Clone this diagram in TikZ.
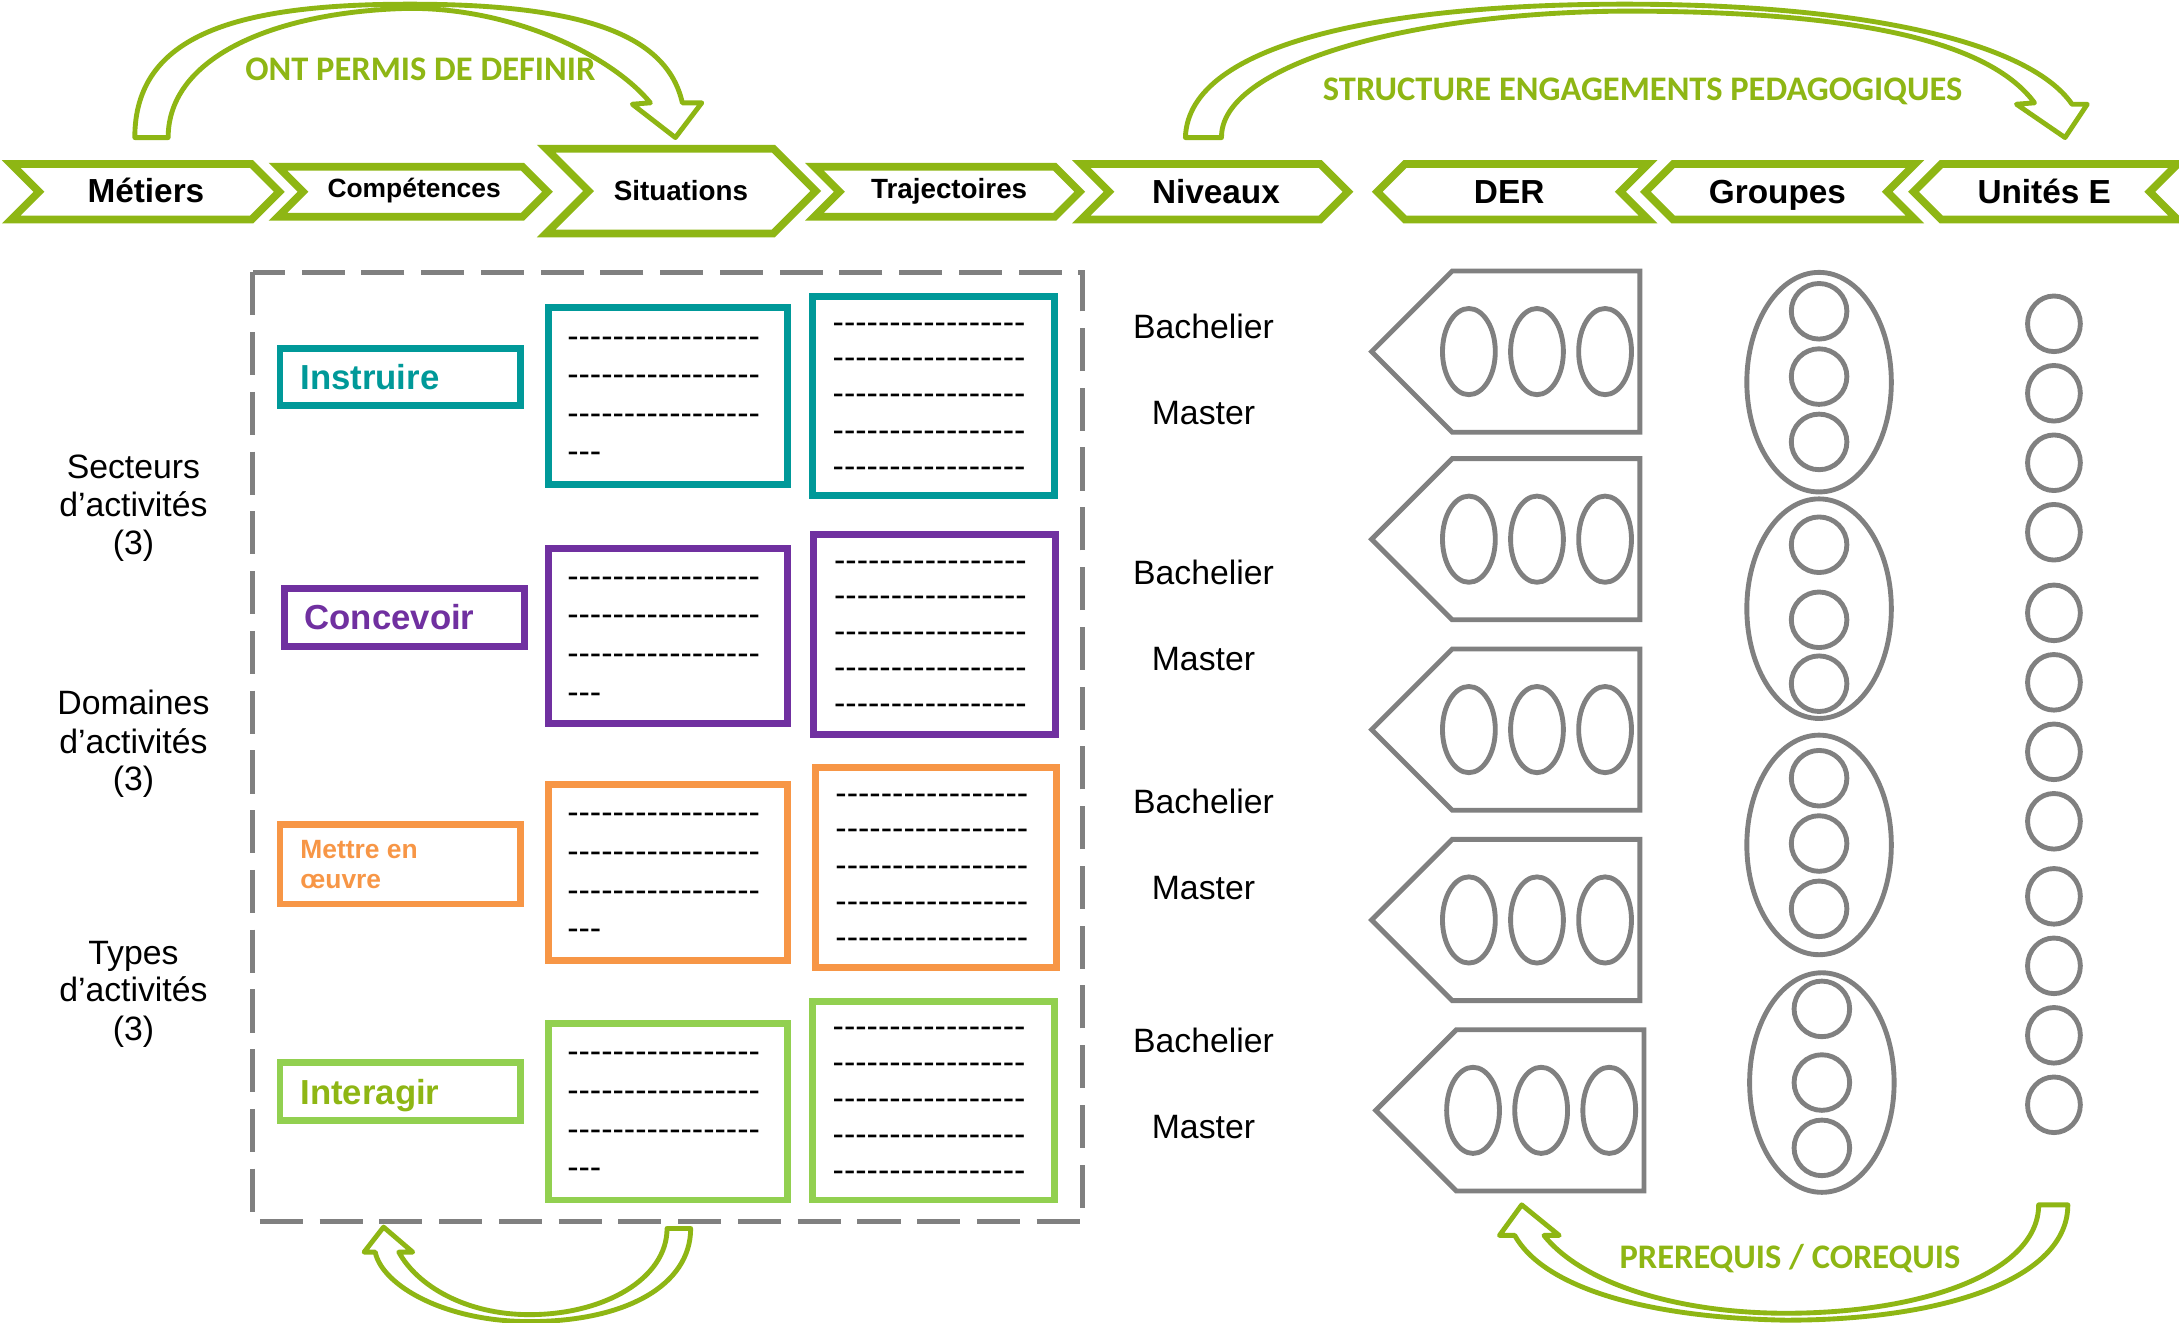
\documentclass[tikz,border=0pt]{standalone}
\usepackage{fontspec}
\setmainfont{Liberation Sans}
\newfontfamily\calfont{Carlito}
\definecolor{cgreen}{RGB}{142,182,20}
\definecolor{cteal}{RGB}{0,153,153}
\definecolor{cpurple}{RGB}{112,48,160}
\definecolor{corange}{RGB}{247,150,70}
\definecolor{clgreen}{RGB}{146,208,80}
\definecolor{cgray}{RGB}{128,128,128}
\newcommand\chevR[4]{%
  \pgfmathsetmacro\chd{(#4-#3)/2}%
  \pgfmathsetmacro\chm{(#4+#3)/2}%
  \draw[chev] (#1,#3) -- ({#2-\chd},#3) -- (#2,\chm) -- ({#2-\chd},#4) -- (#1,#4) -- ({#1+\chd},\chm) -- cycle;}
\newcommand\chevL[4]{%
  \pgfmathsetmacro\chd{(#4-#3)/2}%
  \pgfmathsetmacro\chm{(#4+#3)/2}%
  \draw[chev] (#1,\chm) -- ({#1+\chd},#3) -- (#2,#3) -- ({#2-\chd},\chm) -- (#2,#4) -- ({#1+\chd},#4) -- cycle;}
\newcommand\myhy{-\kern0pt}
\newcommand\dline{\myhy\myhy\myhy\myhy\myhy\myhy\myhy\myhy\myhy\myhy\myhy\myhy\myhy\myhy\myhy\myhy\myhy}
\newcommand\dshort{\myhy\myhy\myhy}
\tikzset{
  chev/.style={draw=cgreen, line width=5.5pt, fill=white},
  bigarrow/.style={draw=cgreen, line width=3.5pt, fill=white, line join=round},
  hdr/.style={font=\fontsize{24}{28}\selectfont\bfseries, anchor=base, inner sep=0pt},
  hdrs/.style={font=\fontsize{20}{24}\selectfont\bfseries, anchor=base, inner sep=0pt},
  glabel/.style={font=\calfont\fontsize{24.8}{28}\selectfont\bfseries, text=cgreen, anchor=base, inner sep=0pt},
  lbox/.style={line width=5pt},
  lbltxt/.style={font=\fontsize{25}{29}\selectfont\bfseries, anchor=base west, inner sep=0pt},
  gshape/.style={draw=cgray, line width=3.5pt},
  dashtxt/.style={font=\fontsize{24.5}{28}\selectfont, anchor=base west, inner sep=0pt},
  plaintxt/.style={font=\fontsize{24.3}{28}\selectfont, anchor=base, inner sep=0pt},
}
\begin{document}
\begin{tikzpicture}[x=1pt,y=-1pt]
\useasboundingbox (0,0) rectangle (1568,952);
\fill[white] (0,0) rectangle (1568,952);

% curved block arrows
\draw[bigarrow] (97,99) .. controls (97,25) and (170,3) .. (295,3)
  .. controls (420,3) and (480,25) .. (491,74)
  -- (505,74) -- (486,99) -- (455,75) -- (468,74)
  .. controls (440,40) and (370,6) .. (295,6)
  .. controls (200,8) and (121,40) .. (121,99) -- cycle;
\draw[bigarrow] (853,99) .. controls (855,30) and (1000,3) .. (1169,3)
  .. controls (1340,3) and (1460,30) .. (1491,75)
  -- (1502,75) -- (1486,99) -- (1451,75) -- (1464,74)
  .. controls (1430,28) and (1330,8) .. (1169,8)
  .. controls (1010,9) and (878,48) .. (879,99) -- cycle;
\draw[bigarrow] (497,884) .. controls (497,925) and (450,951) .. (381,951)
  .. controls (320,951) and (275,925) .. (270,901)
  -- (262,901) -- (276,883) -- (297,901) -- (287,901)
  .. controls (300,925) and (335,946) .. (381,946)
  .. controls (435,946) and (480,920) .. (480,884) -- cycle;
\draw[bigarrow] (1488,867) .. controls (1488,920) and (1400,950) .. (1285,950)
  .. controls (1180,948) and (1110,925) .. (1090,889)
  -- (1079,889) -- (1095,867) -- (1122,889) -- (1111,889)
  .. controls (1140,925) and (1210,945) .. (1285,945)
  .. controls (1385,945) and (1467,915) .. (1467,867) -- cycle;

\node[glabel] (lab1) at (302.5,57.7) {ONT PERMIS DE DEFINIR};
\node[glabel] (lab2) at (1182,72) {STRUCTURE ENGAGEMENTS PEDAGOGIQUES};
\node[glabel] (lab3) at (1288,912.7) {PREREQUIS / COREQUIS};

% chevrons
\chevR{8}{201}{118}{158}
\chevR{200}{394}{120}{156}
\chevR{393}{587}{107}{168}
\chevR{586}{777}{120}{156}
\chevR{778}{970}{118}{158}
\chevL{991}{1186}{118}{158}
\chevL{1184}{1378}{118}{158}
\chevL{1377}{1567}{118}{158}

\node[hdr] (metiers) at (105,145.6) {Métiers};
\node[hdrs, font=\fontsize{19}{22}\selectfont\bfseries] (comp) at (298,141.8) {Compétences};
\node[hdrs] (situ) at (490,144.2) {Situations};
\node[hdrs] (traj) at (683,143.2) {Trajectoires};
\node[hdr] (niv) at (875,146.6) {Niveaux};
\node[hdr] (der) at (1086,146.6) {DER};
\node[hdr] (grp) at (1279,146.6) {Groupes};
\node[hdr] (ue) at (1471,146.6) {Unités E};

% dashed frame
\draw[cgray, line width=3.5pt, dash pattern=on 31pt off 12pt] (182,196) rectangle (779,879);

% left labels
\node[plaintxt] (s1) at (96,344) {Secteurs};
\node[plaintxt] (s2) at (96,372) {d’activités};
\node[plaintxt] (s3) at (96,399) {(3)};
\node[plaintxt] (d1) at (96,514) {Domaines};
\node[plaintxt] (d2) at (96,542) {d’activités};
\node[plaintxt] (d3) at (96,569) {(3)};
\node[plaintxt] (t1) at (96,694) {Types};
\node[plaintxt] (t2) at (96,721) {d’activités};
\node[plaintxt] (t3) at (96,749) {(3)};

% label boxes
\draw[lbox, cteal] (201.5,250.5) rectangle (374.5,291.5);
\draw[lbox, cpurple] (204.5,423.5) rectangle (377.5,465.5);
\draw[lbox, corange] (201.5,593.5) rectangle (374.5,650.5);
\draw[lbox, clgreen] (201.5,764.5) rectangle (374.5,806.5);
\node[lbltxt, text=cteal] (instr) at (216,280) {Instruire};
\node[lbltxt, text=cpurple] (conc) at (219,453) {Concevoir};
\node[lbltxt, text=corange, font=\fontsize{19}{22}\selectfont\bfseries] (mettre1) at (216,618) {Mettre en};
\node[lbltxt, text=corange, font=\fontsize{19}{22}\selectfont\bfseries] (mettre2) at (216,639) {œuvre};
\node[lbltxt, text=cgreen] (inter) at (216,795) {Interagir};

% situation boxes
\draw[lbox, cteal] (394.5,221.5) rectangle (566.5,348.5);
\draw[lbox, cpurple] (394.5,394.5) rectangle (566.5,520.5);
\draw[lbox, corange] (394.5,564.5) rectangle (566.5,691.5);
\draw[lbox, clgreen] (394.5,736.5) rectangle (566.5,863.5);
% trajectory boxes
\draw[lbox, cteal] (584.5,213.5) rectangle (758.5,356.5);
\draw[lbox, cpurple] (585.5,384.5) rectangle (759.5,528.5);
\draw[lbox, corange] (586.5,552.5) rectangle (760.5,696.5);
\draw[lbox, clgreen] (584.5,720.5) rectangle (758.5,863.5);

\foreach \yy [count=\i] in {219,392,562,734} {
  \node[dashtxt] (sa\i) at (408,\yy+24.5+6.4) {\dline};
  \node[dashtxt] (sb\i) at (408,\yy+52+6.4) {\dline};
  \node[dashtxt] (sc\i) at (408,\yy+80+6.4) {\dline};
  \node[dashtxt] (sd\i) at (408,\yy+107.5+6.4) {\dshort};
}
\foreach \yy/\xx [count=\i] in {211/599,382/600,550/601,718/599} {
  \foreach \off [count=\j] in {22.5,48,74,100,126}
    \node[dashtxt] (tr\i\j) at (\xx,\yy+\off+6.4) {\dline};
}

% niveaux
\foreach \yb/\ym [count=\i] in {235/297,412/474,577/639,749/811} {
  \node[plaintxt] (bach\i) at (866,\yb+8.6) {Bachelier};
  \node[plaintxt] (mast\i) at (866,\ym+8.6) {Master};
}

% DER shapes
\foreach \yt/\yb/\dx in {195/311/0, 330/446/0, 467/583/0, 604/720/0, 741/857/3} {
  \pgfmathsetmacro\dmid{(\yt+\yb)/2}
  \draw[gshape] (987+\dx,\dmid) -- (1045+\dx,\yt) -- (1180+\dx,\yt) -- (1180+\dx,\yb) -- (1045+\dx,\yb) -- cycle;
  \foreach \ex in {1057,1106,1155}
    \draw[gshape] (\ex+\dx,\dmid) ellipse [x radius=19, y radius=31];
}

% groups
\foreach \cy/\ca/\cb/\cc/\gx in {275/224/271/318/1309, 438/392/446/492/1309, 608/560/607/654/1309, 779/726/779/826/1311} {
  \draw[gshape] (\gx,\cy) ellipse [x radius=52, y radius=79];
  \foreach \ccy in {\ca,\cb,\cc}
    \draw[gshape] (\gx,\ccy) ellipse [x radius=20, y radius=20];
}

% units
\foreach \uy in {233,283,333,383,441,491,541,591,645,695,745,795}
  \draw[gshape] (1478,\uy) ellipse [x radius=19, y radius=20];

\end{tikzpicture}
\end{document}
